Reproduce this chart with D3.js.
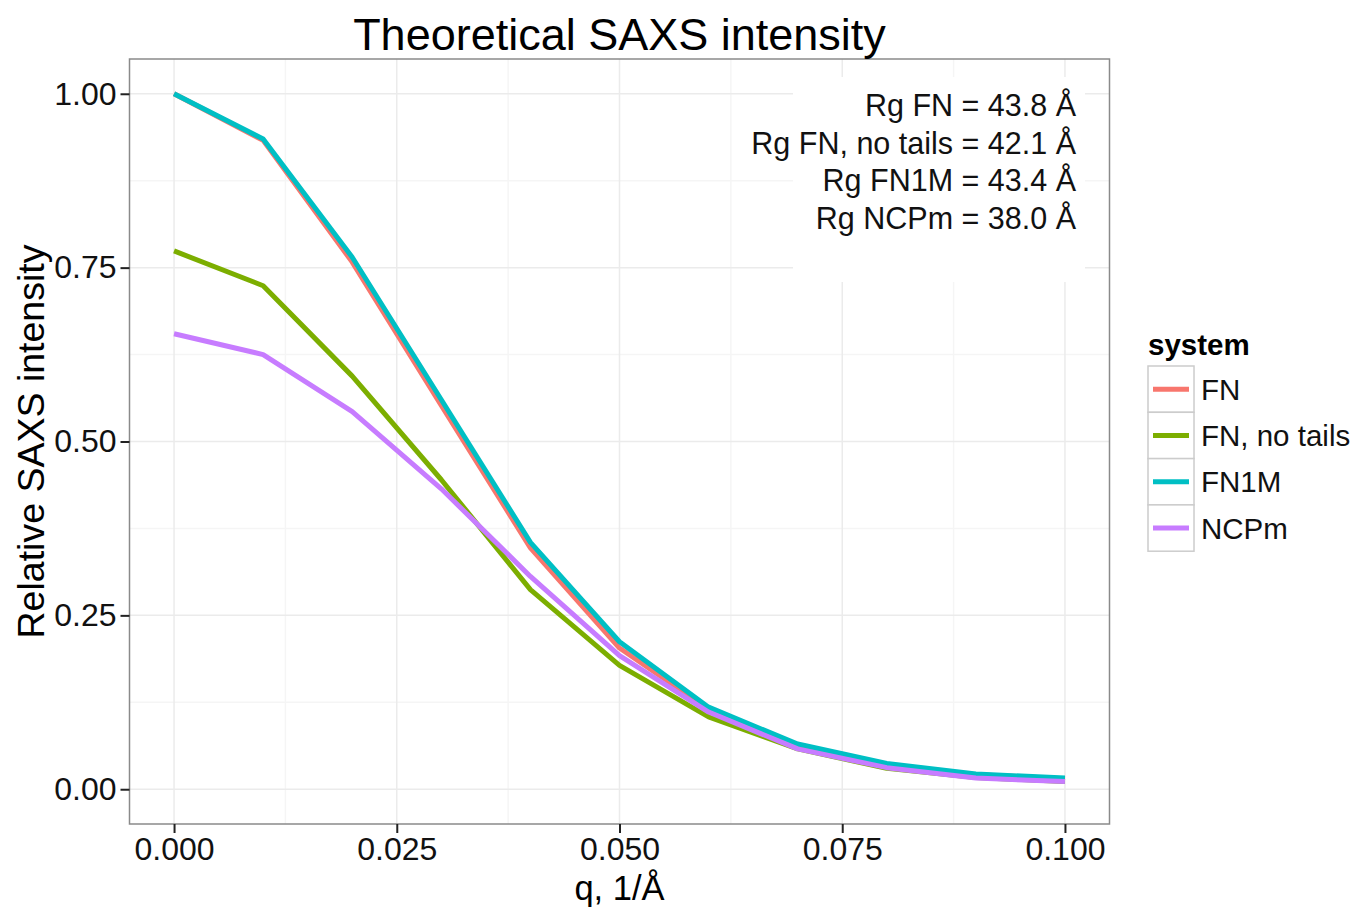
<!DOCTYPE html>
<html>
<head>
<meta charset="utf-8">
<script src="https://cdn.jsdelivr.net/npm/d3@7"></script>
<style>
	body { margin: 0; background: #fff; }
	text { font-family: "Liberation Sans", Arial, Helvetica, sans-serif; }
</style>
</head>
<body>
<div id="chart-area"></div>
<script>
// SVG Size
let width = 1354,
	height = 908;

// data
let q = [0, 0.01, 0.02, 0.03, 0.04, 0.05, 0.06, 0.07, 0.08, 0.09, 0.10];
let systems = ["FN", "FN, no tails", "FN1M", "NCPm"];
let colors = ["#F8766D", "#7CAE00", "#00BFC4", "#C77CFF"];
let fn = [1.000, 0.933, 0.758, 0.552, 0.347, 0.203, 0.115, 0.063, 0.035, 0.021, 0.015];
let fnNoTails = [0.774, 0.724, 0.594, 0.445, 0.287, 0.178, 0.104, 0.058, 0.030, 0.017, 0.011];
let fn1m = [1.000, 0.935, 0.765, 0.560, 0.355, 0.212, 0.118, 0.065, 0.037, 0.022, 0.016];
let ncpm = [0.655, 0.625, 0.543, 0.432, 0.306, 0.192, 0.111, 0.058, 0.031, 0.016, 0.011];
let xTicks = [0, 0.025, 0.05, 0.075, 0.1];
let yTicks = [0, 0.25, 0.5, 0.75, 1];
let rgLabels = ["Rg FN = 43.8 Å", "Rg FN, no tails = 42.1 Å", "Rg FN1M = 43.4 Å", "Rg NCPm = 38.0 Å"];

let seriesValues = [fn, fnNoTails, fn1m, ncpm];
let series = systems.map((name, i) => ({
	name: name,
	color: colors[i],
	values: q.map((d, j) => ({q: d, v: seriesValues[i][j]}))
}));

let panel = {left: 129.5, right: 1109.5, top: 59, bottom: 824};

// ggplot-ish 5% expansion
let xScale = d3.scaleLinear()
			.domain([-0.005, 0.105])
			.range([panel.left, panel.right])

let yScale = d3.scaleLinear()
			.domain([-0.05, 1.05])
			.range([panel.bottom, panel.top])

let svg = d3.select("#chart-area")
			.append('svg')
			.attr('width', width)
			.attr('height', height);

svg.append('rect')
	.attr('width', width)
	.attr('height', height)
	.attr('fill', '#fff')

// minor grid
let xMinor = xTicks.slice(0, -1).map((d, i) => (d + xTicks[i + 1]) / 2)
let yMinor = yTicks.slice(0, -1).map((d, i) => (d + yTicks[i + 1]) / 2)

let grid = svg.append('g').attr('class', 'grid')

grid.selectAll('.xminor')
	.data(xMinor)
	.enter()
	.append('line')
	.attr('x1', d => xScale(d)).attr('x2', d => xScale(d))
	.attr('y1', panel.top).attr('y2', panel.bottom)
	.attr('stroke', '#f5f5f5')
	.attr('stroke-width', 1.5)

grid.selectAll('.yminor')
	.data(yMinor)
	.enter()
	.append('line')
	.attr('y1', d => yScale(d)).attr('y2', d => yScale(d))
	.attr('x1', panel.left).attr('x2', panel.right)
	.attr('stroke', '#f5f5f5')
	.attr('stroke-width', 1.5)

grid.selectAll('.xmajor')
	.data(xTicks)
	.enter()
	.append('line')
	.attr('x1', d => xScale(d)).attr('x2', d => xScale(d))
	.attr('y1', panel.top).attr('y2', panel.bottom)
	.attr('stroke', '#ebebeb')
	.attr('stroke-width', 1.5)

grid.selectAll('.ymajor')
	.data(yTicks)
	.enter()
	.append('line')
	.attr('y1', d => yScale(d)).attr('y2', d => yScale(d))
	.attr('x1', panel.left).attr('x2', panel.right)
	.attr('stroke', '#ebebeb')
	.attr('stroke-width', 1.5)

// white label box behind the Rg text
svg.append('rect')
	.attr('x', 793)
	.attr('y', 77)
	.attr('width', 292)
	.attr('height', 205)
	.attr('fill', '#fff')

// lines
let line = d3.line()
			.x(d => xScale(d.q))
			.y(d => yScale(d.v))

svg.selectAll('.series')
	.data(series)
	.enter()
	.append('path')
	.attr('class', 'series')
	.attr('d', d => line(d.values))
	.attr('fill', 'none')
	.attr('stroke', d => d.color)
	.attr('stroke-width', 5)
	.attr('stroke-linejoin', 'round')

// Rg annotation
svg.append('text')
	.attr('x', 1076)
	.attr('y', 116)
	.attr('text-anchor', 'end')
	.attr('font-size', 30.5)
	.attr('fill', '#111')
	.selectAll('tspan')
	.data(rgLabels)
	.enter()
	.append('tspan')
	.attr('x', 1076)
	.attr('dy', (d, i) => i == 0 ? 0 : 37.5)
	.text(d => d)

// panel border
svg.append('rect')
	.attr('x', panel.left)
	.attr('y', panel.top)
	.attr('width', panel.right - panel.left)
	.attr('height', panel.bottom - panel.top)
	.attr('fill', 'none')
	.attr('stroke', '#8a8a8a')
	.attr('stroke-width', 1.5)

// axes
let xAxis = d3.axisBottom()
			.scale(xScale)
			.tickValues(xTicks)
			.tickFormat(d3.format('.3f'))
			.tickSize(9)
			.tickPadding(4)

let yAxis = d3.axisLeft()
			.scale(yScale)
			.tickValues(yTicks)
			.tickFormat(d3.format('.2f'))
			.tickSize(9)
			.tickPadding(4)

let x = svg.append('g')
			.attr('class', 'axis x-axis')
			.attr('transform', 'translate(0,' + panel.bottom + ')')
			.call(xAxis)

let y = svg.append('g')
			.attr('class', 'axis y-axis')
			.attr('transform', 'translate(' + panel.left + ',0)')
			.call(yAxis)

svg.selectAll('.axis .domain').remove()
svg.selectAll('.axis .tick line')
	.attr('stroke', '#222')
	.attr('stroke-width', 2)
svg.selectAll('.axis .tick text')
	.attr('font-size', 32)
	.attr('font-family', '"Liberation Sans", Arial, sans-serif')
	.attr('fill', '#111')

// titles
svg.append('text')
	.attr('x', (panel.left + panel.right) / 2)
	.attr('y', 50)
	.attr('text-anchor', 'middle')
	.attr('font-size', 45)
	.attr('fill', '#000')
	.text('Theoretical SAXS intensity')

svg.append('text')
	.attr('x', (panel.left + panel.right) / 2)
	.attr('y', 900)
	.attr('text-anchor', 'middle')
	.attr('font-size', 34.5)
	.attr('fill', '#000')
	.text('q, 1/Å')

svg.append('text')
	.attr('transform', 'translate(44,' + (panel.top + panel.bottom) / 2 + ') rotate(-90)')
	.attr('text-anchor', 'middle')
	.attr('font-size', 37.5)
	.attr('fill', '#000')
	.text('Relative SAXS intensity')

// legend
let legend = svg.append('g')
			.attr('transform', 'translate(1148,366)')

legend.append('text')
	.attr('x', 0)
	.attr('y', -11)
	.attr('font-size', 29.5)
	.attr('font-weight', 'bold')
	.text('system')

let keyH = 46.3;

let keys = legend.selectAll('.key')
			.data(series)
			.enter()
			.append('g')
			.attr('class', 'key')
			.attr('transform', (d, i) => 'translate(0,' + i * keyH + ')')

keys.append('rect')
	.attr('width', 46)
	.attr('height', keyH)
	.attr('fill', '#fff')
	.attr('stroke', '#cccccc')
	.attr('stroke-width', 1.5)

keys.append('line')
	.attr('x1', 5).attr('x2', 41)
	.attr('y1', keyH / 2).attr('y2', keyH / 2)
	.attr('stroke', d => d.color)
	.attr('stroke-width', 5)

keys.append('text')
	.attr('x', 53)
	.attr('y', keyH / 2)
	.attr('dy', '0.36em')
	.attr('font-size', 29.5)
	.attr('fill', '#111')
	.text(d => d.name)
</script>
</body>
</html>
